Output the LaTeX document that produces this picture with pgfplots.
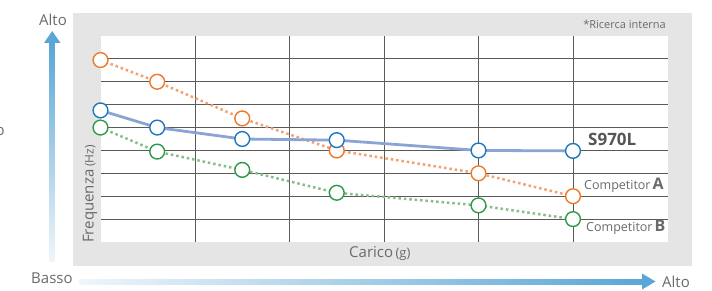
\documentclass[border=0pt]{standalone}
\usepackage{pgfplots}
\pgfplotsset{compat=1.18}
\usepackage{fontspec}
\setmainfont{Open Sans}
\definecolor{panel}{HTML}{E5E5E5}
\definecolor{gridc}{HTML}{5A5A5A}
\definecolor{txt}{HTML}{6A6A6A}
\definecolor{txtd}{HTML}{555555}
\definecolor{orgm}{HTML}{F07828}
\definecolor{orgl}{HTML}{F4A070}
\definecolor{blum}{HTML}{1F78BE}
\definecolor{blul}{HTML}{8AA4D4}
\definecolor{grnm}{HTML}{2E9A48}
\definecolor{grnl}{HTML}{86BE86}
\definecolor{arr}{HTML}{5AA6D6}
\definecolor{arrl}{HTML}{F0F6FB}
\begin{document}
\begin{tikzpicture}[x=1pt,y=1pt]
\useasboundingbox (0,0) rectangle (712,291);
\fill[panel] (73,25) rectangle (692,278);
% vertical arrow
\shade[bottom color=arrl, top color=arr] (49.4,29) rectangle (54.4,248);
\fill[arr] (44,248) -- (60.5,248) -- (52.2,260) -- cycle;
% horizontal arrow
\shade[left color=arrl, right color=arr] (79,6.7) rectangle (643,11.7);
\fill[arr] (642,17.5) -- (642,1.5) -- (655.5,9.5) -- cycle;
\begin{axis}[at={(100.5pt,49pt)}, anchor=south west, scale only axis,
  width=567pt, height=206pt, xmin=0, xmax=6, ymin=0, ymax=9,
  axis line style={draw=none}, axis background/.style={fill=white},
  xtick={1,...,5}, ytick={1,...,8}, xticklabels={}, yticklabels={},
  major tick length=0pt, grid=major, grid style={gridc, line width=0.8pt},
  clip=false]
\addplot[orgl, line width=2.5pt, dash pattern=on 2.5pt off 2.9pt, line cap=butt,
  mark=*, mark size=7.4pt, mark options={draw=orgm, fill=white, solid, line width=1.4pt}]
  coordinates {(0,7.95) (0.6,7.0) (1.5,5.4) (2.5,4.0) (4,3.0) (5,2.0)};
\addplot[grnl, line width=2.5pt, dash pattern=on 2.5pt off 2.9pt, line cap=butt,
  mark=*, mark size=7.4pt, mark options={draw=grnm, fill=white, solid, line width=1.4pt}]
  coordinates {(0,5.0) (0.6,3.95) (1.5,3.15) (2.5,2.15) (4,1.6) (5,1.0)};
\addplot[blul, line width=2.8pt,
  mark=*, mark size=7.4pt, mark options={draw=blum, fill=white, solid, line width=1.4pt}]
  coordinates {(0,5.75) (0.6,5.0) (1.5,4.5) (2.5,4.45) (4,4.0) (5,3.98)};
\end{axis}
% texts
\node[txt, anchor=base west, inner sep=0pt, font=\fontsize{15}{15}\selectfont] at (39,265) {Alto};
\node[txt, anchor=base west, inner sep=0pt, font=\fontsize{15}{15}\selectfont] at (31,7) {Basso};
\node[txt, anchor=base west, inner sep=0pt, font=\fontsize{15}{15}\selectfont] at (662,3) {Alto};
\node[txt, anchor=base, inner sep=0pt, font=\fontsize{15}{15}\selectfont] at (0.2,155.5) {o};
\node[txt, anchor=base east, inner sep=0pt, font=\fontsize{11}{11}\selectfont] at (666,262) {*Ricerca interna};
\node[txtd, anchor=base west, inner sep=0pt, font=\fontsize{17}{17}\selectfont\bfseries] at (588,145) {S970L};
\node[txt, anchor=base west, inner sep=0pt, font=\fontsize{12.5}{12.5}\selectfont] at (584,101) {Competitor\,{\fontsize{16}{16}\selectfont\bfseries A}};
\node[txt, anchor=base west, inner sep=0pt, font=\fontsize{12.5}{12.5}\selectfont] at (586,59) {Competitor\,{\fontsize{16}{16}\selectfont\bfseries B}};
\node[txt, anchor=base west, inner sep=0pt, rotate=90, font=\fontsize{15}{15}\selectfont] at (93.5,48) {Frequenza\,{\fontsize{12}{12}\selectfont(Hz)}};
\node[txt, anchor=base west, inner sep=0pt, font=\fontsize{15}{15}\selectfont] at (349,33) {Carico\,{\fontsize{13}{13}\selectfont(g)}};
\end{tikzpicture}
\end{document}
